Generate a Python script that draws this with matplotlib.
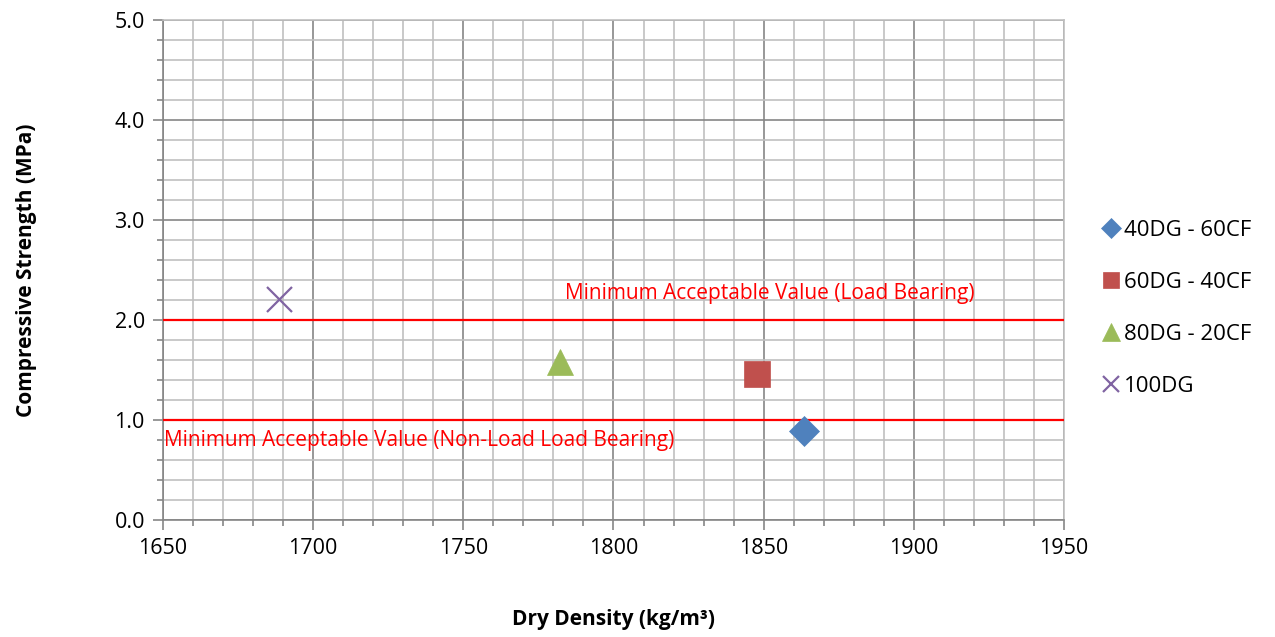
import matplotlib.pyplot as plt
from matplotlib.ticker import MultipleLocator

plt.rcParams['font.family'] = ['Open Sans', 'DejaVu Sans']

# data
series = ['40DG - 60CF', '60DG - 40CF', '80DG - 20CF', '100DG']
density = [1863.5, 1847.8, 1782.2, 1688.7]
strength = [0.89, 1.46, 1.58, 2.21]
markers = ['D', 's', '^', 'x']
colors = ['#4f81bd', '#c0504d', '#9bbb59', '#8064a2']
sizes = [15, 18.5, 19, 18]

limit_values = [2.0, 1.0]
limit_labels = ['Minimum Acceptable Value (Load Bearing)',
                'Minimum Acceptable Value (Non-Load Load Bearing)']
label_pos = [(1783.9, 2.26), (1650.5, 0.79)]

fig = plt.figure(figsize=(12.75, 6.37), dpi=100)
ax = fig.add_axes([0.1278, 0.1837, 0.7067, 0.785])

for name, x, y, m, c, s in zip(series, density, strength, markers, colors, sizes):
    if m == 'x':
        ax.plot(x, y, m, color=c, markersize=s, markeredgewidth=1.6, label=name, zorder=5)
    else:
        ax.plot(x, y, m, color=c, markersize=s, markeredgecolor=c, markeredgewidth=0.5,
                label=name, zorder=5)

for v, lab, (tx, ty) in zip(limit_values, limit_labels, label_pos):
    ax.axhline(v, color='#ff0000', lw=1.6, zorder=4)
    ax.text(tx, ty, lab, color='#ff0000', fontsize=15, va='center', ha='left', zorder=6)

ax.set_xlim(1650, 1950)
ax.set_ylim(0, 5)
ax.xaxis.set_major_locator(MultipleLocator(50))
ax.xaxis.set_minor_locator(MultipleLocator(10))
ax.yaxis.set_major_locator(MultipleLocator(1))
ax.yaxis.set_minor_locator(MultipleLocator(0.2))
ax.yaxis.set_major_formatter(plt.FormatStrFormatter('%.1f'))

ax.grid(which='major', color='#868686', lw=1.2, zorder=0)
ax.grid(which='minor', color='#c0c0c0', lw=1.2, zorder=0)
ax.set_axisbelow(True)

ax.tick_params(which='both', direction='out', color='#868686', width=1.2)
ax.tick_params(which='major', length=7, labelsize=15.5, pad=6)
ax.tick_params(which='minor', length=4)
for side in ['top', 'right']:
    ax.spines[side].set_color('#c0c0c0')
    ax.spines[side].set_linewidth(1.2)
for side in ['left', 'bottom']:
    ax.spines[side].set_color('#868686')
    ax.spines[side].set_linewidth(1.2)

ax.set_xlabel('Dry Density (kg/m³)', fontsize=15, fontweight='bold', labelpad=36)
ax.set_ylabel('Compressive Strength (MPa)', fontsize=15, fontweight='bold', labelpad=56)

ax.legend(loc='center left', bbox_to_anchor=(1.02, 0.423), frameon=False,
          fontsize=16, labelspacing=1.4, handlelength=0.8, handletextpad=0.2,
          markerscale=0.65)

fig.savefig('out.png', dpi=100)
